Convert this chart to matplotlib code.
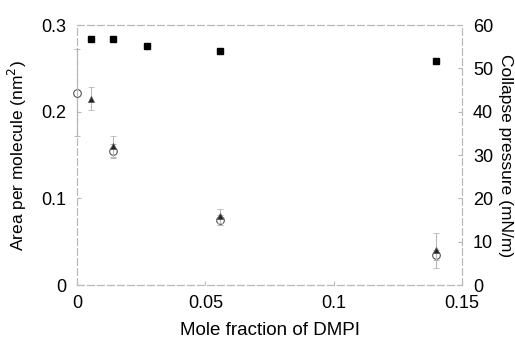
import matplotlib
matplotlib.use("Agg")
import matplotlib.pyplot as plt

plt.rcParams['font.family'] = ['Liberation Sans', 'DejaVu Sans']

# collapse pressure (right axis, filled squares)
press_x = [0.0055, 0.014, 0.0273, 0.0555, 0.140]
press_y = [56.8, 56.8, 55.2, 54.0, 51.7]

# area per molecule, open circles
circ_x = [0.0, 0.014, 0.0555, 0.140]
circ_y = [0.222, 0.155, 0.075, 0.035]
circ_err = [0.05, 0.008, 0.006, 0.006]

# area per molecule, triangles
tri_x = [0.0055, 0.014, 0.0555, 0.140]
tri_y = [0.215, 0.160, 0.080, 0.040]
tri_err = [0.013, 0.012, 0.008, 0.02]

x_ticks = [0, 0.05, 0.1, 0.15]
x_labels = ['0', '0.05', '0.1', '0.15']
left_ticks = [0, 0.1, 0.2, 0.3]
left_labels = ['0', '0.1', '0.2', '0.3']
right_ticks = [0, 10, 20, 30, 40, 50, 60]

faint = '#b8b8b8'

fig = plt.figure(figsize=(5.15, 3.39), dpi=100)
ax = fig.add_axes([0.150, 0.159, 0.747, 0.767])
ax2 = ax.twinx()

c = ax.errorbar(circ_x, circ_y, yerr=circ_err, fmt='o', ms=5.5, mfc='white',
                mec='#555555', mew=0.8, ecolor=faint, elinewidth=0.8, capsize=2,
                ls='none', zorder=3)
t = ax.errorbar(tri_x, tri_y, yerr=tri_err, fmt='^', ms=4, mfc='#222222',
                mec='#555555', mew=0.6, ecolor=faint, elinewidth=0.8, capsize=2,
                ls='none', zorder=4)
for cont in (c, t):
    for art in cont.get_children():
        art.set_clip_on(False)
ax2.plot(press_x, press_y, 's', color='black', ms=5, ls='none')

ax.set_xlim(0, 0.15)
ax.set_ylim(0, 0.3)
ax2.set_ylim(0, 60)

ax.set_xticks(x_ticks)
ax.set_xticklabels(x_labels)
ax.set_yticks(left_ticks)
ax.set_yticklabels(left_labels)
ax2.set_yticks(right_ticks)

for a in (ax, ax2):
    a.tick_params(direction='in', length=3, color=faint, labelsize=13)
    for s in a.spines.values():
        s.set_color(faint)
        s.set_linewidth(0.8)
        s.set_linestyle((0, (6, 3)))
ax.tick_params(axis='x', pad=7)
ax.tick_params(axis='y', pad=8)
ax2.tick_params(axis='y', pad=8)

ax.set_xlabel('Mole fraction of DMPI', fontsize=13.5, labelpad=7)
ax.set_ylabel('Area per molecule (nm$^2$)', fontsize=12.5, labelpad=9)
ax2.set_ylabel('Collapse pressure (mN/m)', fontsize=12.5, rotation=270, labelpad=14)

fig.savefig('out.png', dpi=100)
